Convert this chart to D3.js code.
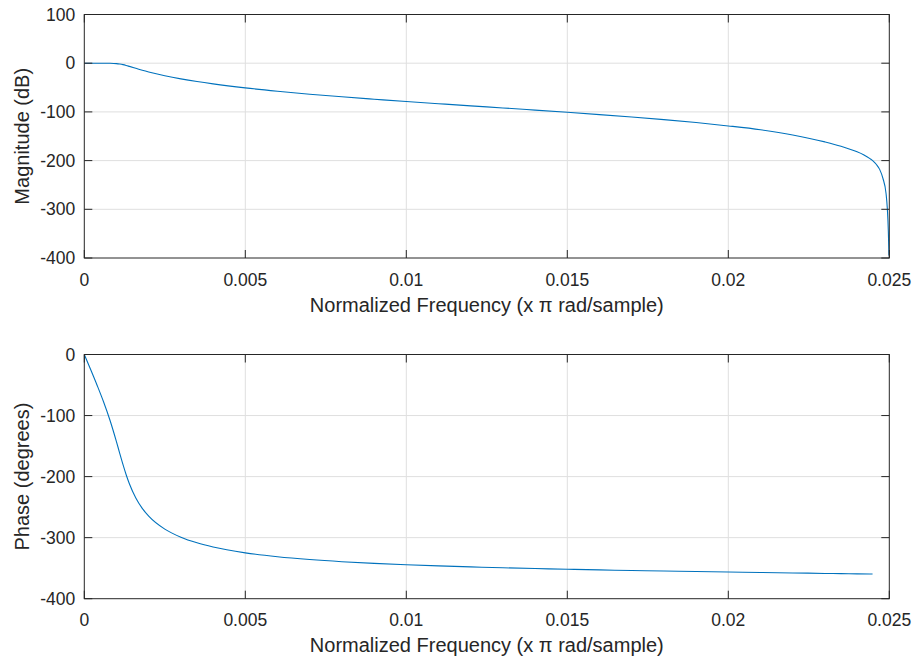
<!DOCTYPE html>
<html>
<head>
<meta charset="utf-8">
<script src="https://cdn.jsdelivr.net/npm/d3@7"></script>
<style>
  html, body { margin: 0; padding: 0; background: #ffffff; }
  svg { display: block; }
  text { font-family: "Liberation Sans", Arial, Helvetica, sans-serif; fill: #262626; }
</style>
</head>
<body>
<script>
// Frequency response of a low-pass filter: magnitude (dB) and phase (degrees)
const magFreq = [0, 0.0002, 0.0004, 0.0006, 0.0008, 0.001, 0.0011, 0.0012, 0.0013, 0.0014,
  0.0016, 0.0018, 0.002, 0.0025, 0.003, 0.0035, 0.004, 0.005, 0.006, 0.007, 0.008, 0.009,
  0.010, 0.011, 0.012, 0.013, 0.014, 0.015, 0.016, 0.017, 0.018, 0.019, 0.020, 0.021, 0.022,
  0.023, 0.0235, 0.0238, 0.024, 0.0242, 0.0244, 0.0245, 0.0246, 0.0247, 0.0248, 0.0249,
  0.02494, 0.02497, 0.02499];
const magDb = [0, 0, 0, -0.02, -0.17, -0.9, -1.8, -3.0, -4.6, -6.5,
  -10.4, -14.3, -17.9, -25.7, -32.2, -37.7, -42.5, -50.7, -57.5, -63.6, -69.0, -73.9,
  -78.7, -83.2, -87.6, -91.9, -96.3, -100.8, -105.5, -110.5, -115.9, -121.9, -128.8, -136.7, -147.3,
  -161.6, -170.5, -177, -182, -188, -196, -201, -208, -218, -236, -268,
  -300, -345, -395];

const phaseFreq = [0, 0.0002, 0.0004, 0.0006, 0.0008, 0.001, 0.0011, 0.0012, 0.0013, 0.0014,
  0.0016, 0.0018, 0.002, 0.0025, 0.003, 0.0035, 0.004, 0.005, 0.006, 0.007, 0.008, 0.009,
  0.010, 0.011, 0.012, 0.013, 0.014, 0.015, 0.016, 0.017, 0.018, 0.019, 0.020, 0.021, 0.022,
  0.023, 0.0235, 0.024, 0.02448];
const phaseDeg = [0, -25.0, -50.7, -77.8, -108.1, -143.1, -161.8, -180, -196.9, -211.6,
  -235.0, -252.0, -264.7, -286.0, -299.3, -308.5, -315.4, -324.9, -331.3, -335.9, -339.4, -342.1,
  -344.4, -346.3, -347.9, -349.4, -350.6, -351.8, -352.8, -353.8, -354.7, -355.5, -356.3, -357.1, -357.8,
  -358.6, -358.9, -359.3, -359.6];

const xTicks = [0, 0.005, 0.01, 0.015, 0.02, 0.025];
const xTickLabels = ["0", "0.005", "0.01", "0.015", "0.02", "0.025"];
const magTicks = [-400, -300, -200, -100, 0, 100];
const phaseTicks = [-400, -300, -200, -100, 0];

const W = 914, H = 662;
const svg = d3.select("body").append("svg").attr("width", W).attr("height", H);

const left = 84.3, right = 889.3;
const x = d3.scaleLinear().domain([0, 0.025]).range([left, right]);

const panels = [
  { top: 14.5, bottom: 258, domain: [-400, 100], ticks: magTicks, xs: magFreq, ys: magDb, ylabel: "Magnitude (dB)" },
  { top: 354.5, bottom: 598.7, domain: [-400, 0], ticks: phaseTicks, xs: phaseFreq, ys: phaseDeg, ylabel: "Phase (degrees)" }
];

const axisColor = "#262626";
const gridColor = "#dfdfdf";
const lineColor = "#0072BD";
const tickLen = 8;

panels.forEach((p, i) => {
  const y = d3.scaleLinear().domain(p.domain).range([p.bottom, p.top]);
  const g = svg.append("g");

  // grid
  g.selectAll("line.gx").data(xTicks.slice(1, -1)).enter().append("line")
    .attr("x1", d => x(d)).attr("x2", d => x(d))
    .attr("y1", p.top).attr("y2", p.bottom)
    .attr("stroke", gridColor).attr("stroke-width", 1);
  g.selectAll("line.gy").data(p.ticks.slice(1, -1)).enter().append("line")
    .attr("x1", left).attr("x2", right)
    .attr("y1", d => y(d)).attr("y2", d => y(d))
    .attr("stroke", gridColor).attr("stroke-width", 1);

  // data line
  const clipId = "clip" + i;
  svg.append("clipPath").attr("id", clipId).append("rect")
    .attr("x", left).attr("y", p.top).attr("width", right - left).attr("height", p.bottom - p.top);
  const line = d3.line().x(d => x(d[0])).y(d => y(d[1])).curve(d3.curveMonotoneX);
  g.append("path")
    .datum(p.xs.map((f, k) => [f, p.ys[k]]))
    .attr("clip-path", `url(#${clipId})`)
    .attr("d", line)
    .attr("fill", "none")
    .attr("stroke", lineColor)
    .attr("stroke-width", 1.1);

  // inward ticks on all four sides
  xTicks.forEach(t => {
    g.append("line").attr("x1", x(t)).attr("x2", x(t)).attr("y1", p.bottom).attr("y2", p.bottom - tickLen)
      .attr("stroke", axisColor).attr("stroke-width", 1);
    g.append("line").attr("x1", x(t)).attr("x2", x(t)).attr("y1", p.top).attr("y2", p.top + tickLen)
      .attr("stroke", axisColor).attr("stroke-width", 1);
  });
  p.ticks.forEach(t => {
    g.append("line").attr("x1", left).attr("x2", left + tickLen).attr("y1", y(t)).attr("y2", y(t))
      .attr("stroke", axisColor).attr("stroke-width", 1);
    g.append("line").attr("x1", right).attr("x2", right - tickLen).attr("y1", y(t)).attr("y2", y(t))
      .attr("stroke", axisColor).attr("stroke-width", 1);
  });

  // box
  g.append("rect").attr("x", left).attr("y", p.top)
    .attr("width", right - left).attr("height", p.bottom - p.top)
    .attr("fill", "none").attr("stroke", axisColor).attr("stroke-width", 1);

  // tick labels
  g.selectAll("text.xt").data(xTicks).enter().append("text")
    .attr("x", d => x(d)).attr("y", p.bottom + 27.5)
    .attr("text-anchor", "middle").attr("font-size", "17.5px")
    .text((d, k) => xTickLabels[k]);
  g.selectAll("text.yt").data(p.ticks).enter().append("text")
    .attr("x", left - 9).attr("y", d => y(d)).attr("dy", "0.35em")
    .attr("text-anchor", "end").attr("font-size", "17.5px")
    .text(d => d);

  // axis labels
  g.append("text")
    .attr("x", (left + right) / 2).attr("y", p.bottom + 53.7)
    .attr("text-anchor", "middle").attr("font-size", "20px")
    .text("Normalized Frequency (x \u03C0 rad/sample)");
  g.append("text")
    .attr("transform", `translate(28.5,${(p.top + p.bottom) / 2}) rotate(-90)`)
    .attr("text-anchor", "middle").attr("font-size", "20px")
    .text(p.ylabel);
});
</script>
</body>
</html>
